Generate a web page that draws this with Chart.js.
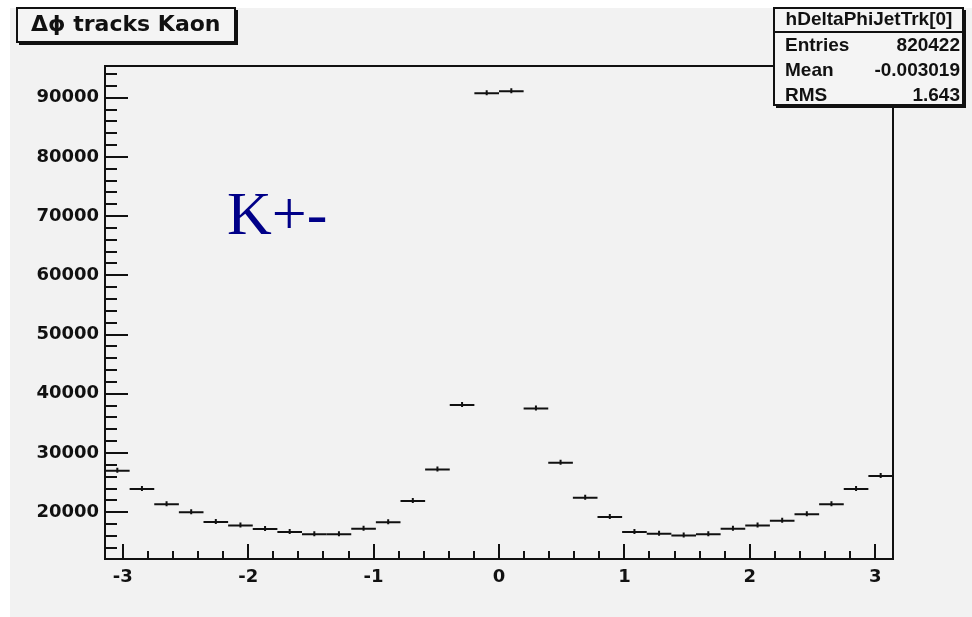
<!DOCTYPE html>
<html>
<head>
<meta charset="utf-8">
<script src="https://cdn.jsdelivr.net/npm/chart.js@4.4.1/dist/chart.umd.min.js"></script>
<style>
  body { margin: 0; background: #ffffff; }
  canvas { display: block; }
</style>
</head>
<body>
<canvas id="phiChart" width="972" height="617"></canvas>
<script>
// histogram hDeltaPhiJetTrk[0]: 32 bins over [-pi, pi]
const nBins = 32;
const xMin = -Math.PI;
const xMax = Math.PI;
const counts = [
    27000, 23900, 21350, 20000, 18350, 17750, 17150, 16650,
    16300, 16300, 17200, 18300, 21900, 27200, 38100, 90750,
    91100, 37500, 28350, 22450, 19200, 16650, 16350, 16050,
    16300, 17200, 17750, 18550, 19650, 21350, 23900, 26100
];
const xTicks = [-3, -2, -1, 0, 1, 2, 3];
const yTicks = [20000, 30000, 40000, 50000, 60000, 70000, 80000, 90000];
const yMin = 12100;
const yMax = 95350;

const titleText = "\u0394\u03d5 tracks Kaon";
const statsName = "hDeltaPhiJetTrk[0]";
const statsRows = [["Entries", "820422"], ["Mean", "-0.003019"], ["RMS", "1.643"]];
const annotation = "K+-";

const binWidth = (xMax - xMin) / nBins;
let points = counts.map((c, i) => ({ x: xMin + (i + 0.5) * binWidth, y: c }));

const ink = "#111111";
const tickFont = { family: "DejaVu Sans", weight: "bold", size: 18 };

// page background and pad
const backgroundPlugin = {
    id: "padBackground",
    beforeDraw(chart) {
        let ctx = chart.ctx;
        ctx.save();
        ctx.fillStyle = "#ffffff";
        ctx.fillRect(0, 0, chart.width, chart.height);
        ctx.fillStyle = "#f2f2f2";
        ctx.fillRect(10, 8, chart.width - 10, chart.height - 8);
        ctx.restore();
    }
};

// each bin as a horizontal segment with a small error mark
const binsPlugin = {
    id: "histBins",
    afterDatasetsDraw(chart) {
        let ctx = chart.ctx;
        let xs = chart.scales.x, ys = chart.scales.y;
        ctx.save();
        ctx.strokeStyle = ink;
        ctx.lineWidth = 2;
        points.forEach(p => {
            let x0 = xs.getPixelForValue(p.x - binWidth / 2);
            let x1 = xs.getPixelForValue(p.x + binWidth / 2);
            let xc = xs.getPixelForValue(p.x);
            let y = ys.getPixelForValue(p.y);
            ctx.beginPath();
            ctx.moveTo(x0, y);
            ctx.lineTo(x1, y);
            ctx.moveTo(xc, y - 3);
            ctx.lineTo(xc, y + 2);
            ctx.stroke();
        });
        ctx.restore();
    }
};

// frame, inside ticks, title box, stats box and label
const framePlugin = {
    id: "rootFrame",
    afterDraw(chart) {
        let ctx = chart.ctx;
        let a = chart.chartArea;
        let xs = chart.scales.x, ys = chart.scales.y;
        ctx.save();
        ctx.strokeStyle = ink;
        ctx.lineWidth = 2;
        ctx.strokeRect(a.left, a.top, a.right - a.left, a.bottom - a.top);

        ctx.beginPath();
        for (let v = 14000; v <= yMax; v += 2000) {
            let y = Math.round(ys.getPixelForValue(v));
            let len = (v % 10000 === 0) ? 23 : 12;
            ctx.moveTo(a.left, y);
            ctx.lineTo(a.left + len, y);
        }
        for (let k = -15; k <= 15; k++) {
            let v = k * 0.2;
            let x = Math.round(xs.getPixelForValue(v));
            let len = (k % 5 === 0) ? 15 : 8;
            ctx.moveTo(x, a.bottom);
            ctx.lineTo(x, a.bottom - len);
        }
        ctx.stroke();

        // title box
        ctx.fillStyle = ink;
        ctx.fillRect(19, 10, 219, 35);
        ctx.fillStyle = "#f4f4f4";
        ctx.fillRect(17, 8, 218, 34);
        ctx.strokeRect(17, 8, 218, 34);
        ctx.fillStyle = ink;
        ctx.font = "bold 22px 'DejaVu Sans'";
        ctx.textBaseline = "middle";
        ctx.textAlign = "left";
        ctx.fillText(titleText, 31, 25);

        // stats box
        ctx.fillStyle = ink;
        ctx.fillRect(776, 10, 190, 98);
        ctx.fillStyle = "#f4f4f4";
        ctx.fillRect(774, 8, 189, 97);
        ctx.strokeRect(774, 8, 189, 97);
        ctx.beginPath();
        ctx.moveTo(774, 32);
        ctx.lineTo(963, 32);
        ctx.stroke();
        ctx.fillStyle = ink;
        ctx.font = "bold 19px 'Liberation Sans'";
        ctx.textAlign = "center";
        ctx.fillText(statsName, 869, 20);
        statsRows.forEach((row, i) => {
            let y = 46 + i * 25;
            ctx.textAlign = "left";
            ctx.fillText(row[0], 785, y);
            ctx.textAlign = "right";
            ctx.fillText(row[1], 960, y);
        });

        // particle label
        ctx.fillStyle = "#000088";
        ctx.font = "62px 'Liberation Serif'";
        ctx.textAlign = "left";
        ctx.textBaseline = "alphabetic";
        ctx.fillText(annotation, 227, 234);
        ctx.restore();
    }
};

new Chart(document.getElementById("phiChart"), {
    type: "scatter",
    data: {
        datasets: [{
            data: points,
            pointRadius: 0,
            showLine: false,
            borderColor: ink
        }]
    },
    options: {
        responsive: false,
        animation: false,
        devicePixelRatio: 1,
        layout: { padding: { top: 66, right: 79, left: 0, bottom: 0 } },
        plugins: { legend: { display: false }, tooltip: { enabled: false } },
        scales: {
            x: {
                type: "linear",
                min: xMin,
                max: xMax,
                grid: { display: false, drawTicks: false },
                border: { display: false },
                afterBuildTicks: s => { s.ticks = xTicks.map(v => ({ value: v })); },
                afterFit: s => { s.height = 58; },
                ticks: {
                    color: ink,
                    font: tickFont,
                    padding: 8,
                    autoSkip: false,
                    maxRotation: 0,
                    callback: v => String(v)
                }
            },
            y: {
                type: "linear",
                min: yMin,
                max: yMax,
                grid: { display: false, drawTicks: false },
                border: { display: false },
                afterBuildTicks: s => { s.ticks = yTicks.map(v => ({ value: v })); },
                afterFit: s => { s.width = 105; },
                ticks: {
                    color: ink,
                    font: tickFont,
                    padding: 6,
                    autoSkip: false,
                    callback: v => String(v)
                }
            }
        }
    },
    plugins: [backgroundPlugin, binsPlugin, framePlugin]
});
</script>
</body>
</html>
